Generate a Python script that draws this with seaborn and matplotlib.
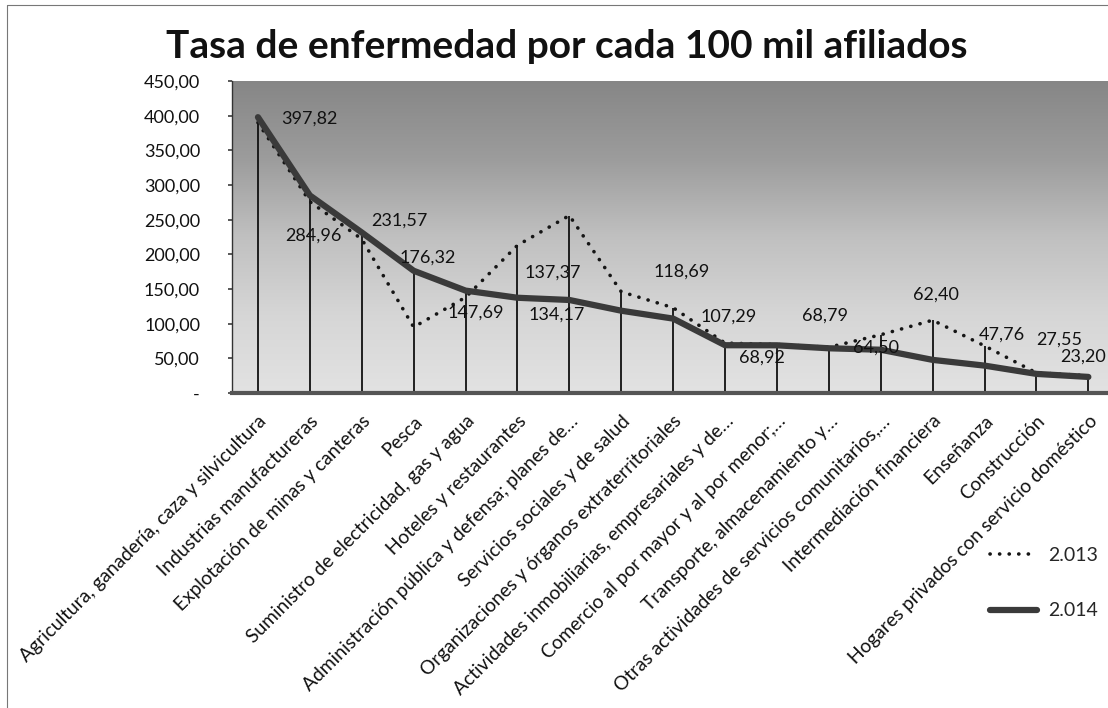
import numpy as np
import pandas as pd
import matplotlib
matplotlib.use("Agg")
import matplotlib.pyplot as plt
import seaborn as sns
from matplotlib.colors import LinearSegmentedColormap
from matplotlib.lines import Line2D

# ---------------- data ----------------
categorias = [
    "Agricultura, ganadería, caza y silvicultura",
    "Industrias manufactureras",
    "Explotación de minas y canteras",
    "Pesca",
    "Suministro de electricidad, gas y agua",
    "Hoteles y restaurantes",
    "Administración pública y defensa; planes de…",
    "Servicios sociales y de salud",
    "Organizaciones y órganos extraterritoriales",
    "Actividades inmobiliarias, empresariales y de…",
    "Comercio al por mayor y al por menor;…",
    "Transporte, almacenamiento y…",
    "Otras actividades de servicios comunitarios,…",
    "Intermediación financiera",
    "Enseñanza",
    "Construcción",
    "Hogares privados con servicio doméstico",
]
tasa_2013 = [390.0, 276.0, 222.0, 95.0, 138.0, 213.0, 256.0, 146.0, 123.0,
             72.0, 70.0, 66.0, 84.0, 105.0, 68.0, 29.0, 25.0]
tasa_2014 = [397.82, 284.96, 231.57, 176.32, 147.69, 137.37, 134.17, 118.69,
             107.29, 68.92, 68.79, 64.50, 62.40, 47.76, 39.50, 27.55, 23.20]
etiqueta_visible = [True] * 14 + [False] + [True, True]
serie_2013 = "2.013"
serie_2014 = "2.014"
titulo = "Tasa de enfermedad por cada 100 mil afiliados"
yticks = [0, 50, 100, 150, 200, 250, 300, 350, 400, 450]

# label offsets (pixels) relative to each point
offsets = [(51, -1), (4, -40), (38, 12), (14, 13), (10, -22), (35, 25), (-13, -15),
           (60, 39), (55, 2), (37, -12), (48, 30), (47, 1), (55, 55), (69, 25),
           (0, 0), (23, 34), (-5, 20)]

pos = np.arange(len(categorias))
df = pd.DataFrame({"pos": np.concatenate([pos, pos]),
                   "valor": tasa_2013 + tasa_2014,
                   "serie": [serie_2013] * len(pos) + [serie_2014] * len(pos)})

# ---------------- figure ----------------
sns.set_theme(style="white")
plt.rcParams["font.family"] = ["Lato", "DejaVu Sans"]

fig = plt.figure(figsize=(11.08, 7.08), dpi=100)
ax = fig.add_axes([232 / 1108, 1 - 393 / 708, 17 * 51.9 / 1108, (393 - 81) / 708])

cmap = LinearSegmentedColormap.from_list(
    "fondo", ["#868686", "#9c9c9c", "#c0c0c0", "#d6d6d6", "#e2e2e2"])
ax.imshow(np.linspace(0, 1, 256)[:, None], extent=(-0.5, 16.5, 0, 450),
          aspect="auto", cmap=cmap, origin="upper", zorder=0)

ax.vlines(pos, 0, np.maximum(tasa_2013, tasa_2014), color="#111111", lw=1.3, zorder=2)

dot_style = (0, (0.05, 2.6))
d13 = df[df["serie"] == serie_2013]
d14 = df[df["serie"] == serie_2014]
sns.lineplot(data=d13, x="pos", y="valor", ax=ax, color="#151515", lw=2.6,
             linestyle=dot_style, dash_capstyle="round", zorder=3, legend=False)
sns.lineplot(data=d14, x="pos", y="valor", ax=ax, color="#3a3a3a", lw=4.5,
             solid_capstyle="round", zorder=4, legend=False)

for i, v in enumerate(tasa_2014):
    if etiqueta_visible[i]:
        ax.annotate(f"{v:.2f}".replace(".", ","), (pos[i], v), xytext=offsets[i],
                    textcoords="offset pixels", ha="center", va="center",
                    fontsize=13, color="#111111", zorder=6)

ax.set_xlim(-0.5, 16.5)
ax.set_ylim(0, 450)
ax.set_yticks(yticks)
ax.set_yticklabels(["-" if t == 0 else f"{t:.2f}".replace(".", ",") for t in yticks],
                   fontsize=13, color="#111111")
ax.set_xticks(pos)
ax.set_xticklabels(categorias, rotation=45, ha="right", rotation_mode="anchor",
                   fontsize=13.8, color="#111111")
ax.tick_params(axis="x", length=0, pad=14)
ax.tick_params(axis="y", length=3, color="#444444", pad=20, left=True)
ax.set_xlabel("")
ax.set_ylabel("")
for s in ["top", "right"]:
    ax.spines[s].set_visible(False)
ax.spines["left"].set_color("#333333")
ax.spines["left"].set_linewidth(1.0)
ax.spines["bottom"].set_color("#555555")
ax.spines["bottom"].set_linewidth(3)

fig.text(567 / 1108, 1 - 46 / 708, titulo, ha="center", va="center",
         fontsize=28, fontweight="bold", color="#111111")

handles = [Line2D([], [], color="#151515", lw=2.6, linestyle=dot_style,
                  dash_capstyle="round"),
           Line2D([], [], color="#3a3a3a", lw=4.5)]
fig.legend(handles, [serie_2013, serie_2014], loc="center",
           bbox_to_anchor=(1044 / 1108, 1 - 583 / 708), frameon=False,
           handlelength=2.4, handletextpad=0.6, labelspacing=2.0, fontsize=14)

fig.add_artist(Line2D([7 / 1108, 7 / 1108], [0, 1 - 5 / 708], color="#777777", lw=0.8))
fig.add_artist(Line2D([7 / 1108, 1], [1 - 5 / 708, 1 - 5 / 708], color="#777777", lw=0.8))

fig.savefig("out.png", dpi=100)
